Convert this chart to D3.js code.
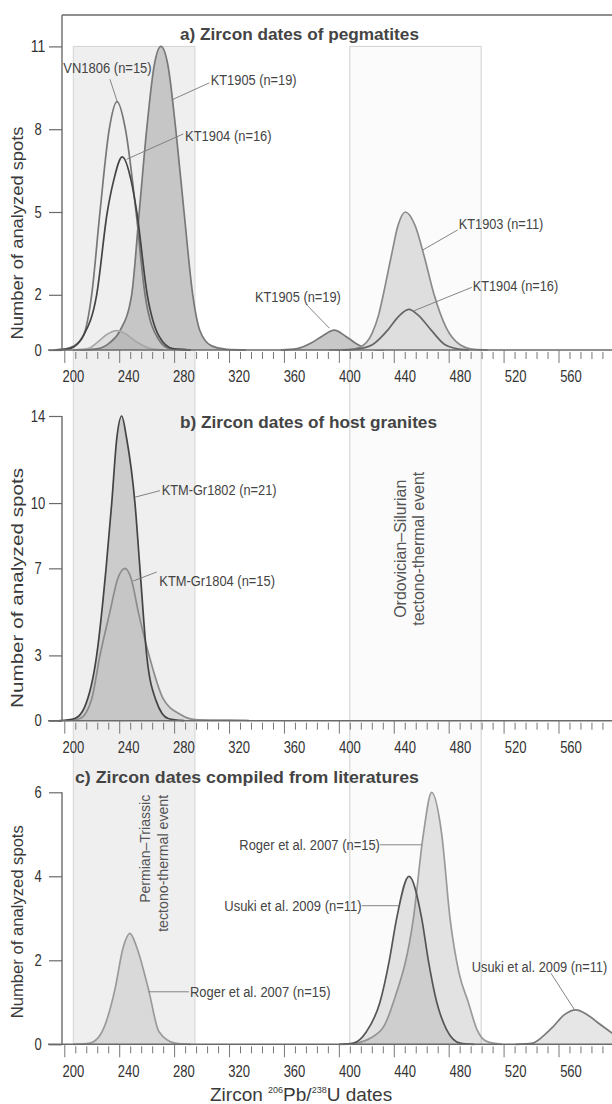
<!DOCTYPE html>
<html>
<head>
<meta charset="utf-8">
<script src="https://cdn.jsdelivr.net/npm/d3@7"></script>
<style>
  body { margin: 0; background: #fff; }
  svg { display: block; }
  text { font-family: "Liberation Sans", Arial, sans-serif; fill: #444; }
  .narrow { font-family: "Liberation Sans Narrow", "Arial Narrow", "Liberation Sans", sans-serif; }
</style>
</head>
<body>
<div id="chart"></div>
<script>
// ---- data: [age (Ma), number of spots] ----
// a) pegmatites
var kt1905a = [[205,0],[218,0.05],[226,0.25],[233.8,0.7],[242.2,2],[247.7,5],[253.1,8],[258.5,10.3],[263.4,11],[268.5,10.3],[274.1,8],[280.1,5],[286.4,2],[291.6,0.7],[300,0.15],[311,0.02],[325,0]];
var kt1905b = [[350,0],[362,0.05],[372,0.25],[380,0.5],[388.8,0.72],[397,0.5],[405,0.22],[413,0.05],[425,0]];
var kt1903a = [[200,0],[210.6,0.05],[218,0.3],[224,0.55],[231.4,0.7],[238,0.58],[245,0.32],[255.5,0.06],[265,0]];
var kt1903b = [[385,0],[399,0.01],[407.4,0.1],[416.1,0.6],[421,1.3],[424.2,2],[430,3.4],[434.8,4.5],[440.2,5],[447.3,4.5],[453.8,3.4],[461,2],[469.8,0.8],[479.5,0.2],[490,0.02],[500,0]];
var vn1806 = [[186,0],[195.2,0.05],[206.1,0.4],[213.3,2],[219.3,5],[226,8],[231.6,9],[237.7,8],[245.4,5],[251.9,2],[261.5,0.4],[270,0.05],[285,0]];
var kt1904a = [[188,0],[197.6,0.05],[207,0.5],[216.9,2],[224.6,5],[229,6.1],[235.4,7],[242,6.1],[245.9,5],[253.5,2],[262,0.5],[272,0.05],[285,0]];
var kt1904b = [[395,0],[405,0.03],[416.6,0.2],[427.6,0.73],[435,1.2],[442.6,1.47],[450,1.24],[458.7,0.73],[468.6,0.2],[476,0.06],[486,0]];
// b) host granites
var gr1802 = [[190,0],[201,0.1],[208,0.6],[216.9,3],[223.7,7],[227.8,10],[231.5,13],[235,14],[238.5,13],[244.6,10],[248.2,7],[253.1,3],[260,0.9],[268.7,0.1],[280,0]];
var gr1804 = [[195,0],[204.8,0.1],[213.3,1],[219.3,3],[226.5,5],[232,6.5],[237.4,7],[242,6.5],[247,5],[254.8,3],[265.1,1],[277.2,0.3],[288,0.05],[300,0.03],[325,0.02],[327,0]];
// c) literature
var roger1 = [[200,0],[212,0.03],[220,0.25],[230.2,1.32],[236,2.3],[241,2.64],[246,2.3],[254.3,1.32],[262,0.3],[273.6,0.03],[285,0]];
var roger2 = [[395,0],[405,0.03],[415,0.15],[425,0.45],[431.5,1],[446,3],[453.2,5],[459.2,6],[466.5,5],[472.5,3],[479,1.7],[485.7,1],[492,0.35],[499,0.07],[510,0]];
var usuki1 = [[392,0],[402.6,0.03],[412,0.3],[421.8,1],[428.6,2],[433.9,3],[442.8,4],[452,3],[456.8,2],[462.9,1],[470,0.35],[479.7,0.03],[490,0]];
var usuki2 = [[520,0],[532.3,0.03],[540,0.2],[546.8,0.41],[555,0.7],[563.6,0.82],[572,0.7],[580,0.5],[590,0.26]];

// axes
var xLabels = [200, 240, 280, 320, 360, 400, 440, 480, 520, 560];
var xMinor = d3.range(200, 600, 8);
var yTicksA = [0, 2, 5, 8, 11];
var yTicksB = [0, 3, 7, 10, 14];
var yTicksC = [0, 2, 4, 6];

// event bands (Ma)
var permTrias = [200, 288];
var ordoSil = [400, 495];

var W = 612, H = 1104, left = 62;
var digitW = 7.25; // condensed figure digits

var svg = d3.select("#chart").append("svg")
    .attr("width", W)
    .attr("height", H);

// value scale (labels sit here) and the slightly shifted tick scale of the original
var x = d3.scaleLinear().domain([200, 560]).range([73.3, 571]);
var xTick = d3.scaleLinear().domain([200, 560]).range([64.3, 558.5]);

var panels = [
    {
        y: d3.scaleLinear().domain([0, 11]).range([350, 46.4]),
        ticks: yTicksA, top: 15, frame: true,
        title: "a) Zircon dates of pegmatites", tx: 180, ty: 39.5, tw: 239,
        ylab: 233, ylw: 213,
        series: [
            {data: kt1905a, fill: "#c6c6c6", stroke: "#787878"},
            {data: kt1905b, fill: "#c8c8c8", stroke: "#787878"},
            {data: kt1903b, fill: "#dedede", stroke: "#8a8a8a"},
            {data: kt1903a, fill: "rgba(110,110,110,0.12)", stroke: "#a8a8a8"},
            {data: vn1806, fill: "none", stroke: "#777"},
            {data: kt1904a, fill: "none", stroke: "#444"},
            {data: kt1904b, fill: "none", stroke: "#666"}
        ],
        notes: [
            {t: "VN1806 (n=15)", at: [192.8, 10.04], w: 88.4, from: [226.5, 9.81], to: [231.8, 9.0]},
            {t: "KT1905 (n=19)", at: [299.4, 9.60], w: 86, from: [298.4, 9.68], to: [271.2, 9.06]},
            {t: "KT1904 (n=16)", at: [280.8, 7.57], w: 86.7, from: [279.6, 7.83], to: [238.6, 6.91]},
            {t: "KT1905 (n=19)", at: [331.4, 1.75], w: 86, from: [368.2, 1.67], to: [385.2, 0.79]},
            {t: "KT1903 (n=11)", at: [478.8, 4.38], w: 84.6, from: [478, 4.35], to: [452.7, 3.62]},
            {t: "KT1904 (n=16)", at: [488.9, 2.14], w: 85.6, from: [488.2, 2.27], to: [445.9, 1.41]}
        ]
    },
    {
        y: d3.scaleLinear().domain([0, 14]).range([720.7, 416]),
        ticks: yTicksB, top: 416, frame: false,
        title: "b) Zircon dates of host granites", tx: 180, ty: 427.5, tw: 257,
        ylab: 588, ylw: 240,
        series: [
            {data: gr1802, fill: "#cccccc", stroke: null},
            {data: gr1804, fill: "rgba(190,190,190,0.45)", stroke: "#8c8c8c"},
            {data: gr1802, fill: "none", stroke: "#444"}
        ],
        notes: [
            {t: "KTM-Gr1802 (n=21)", at: [263.9, 10.39], w: 115, from: [262.7, 10.57], to: [244.6, 10.27]},
            {t: "KTM-Gr1804 (n=15)", at: [262.2, 6.19], w: 115.7, from: [260.3, 6.83], to: [243.4, 6.42]}
        ]
    },
    {
        y: d3.scaleLinear().domain([0, 6]).range([1044.3, 792.3]),
        ticks: yTicksC, top: 792.3, frame: false,
        title: "c) Zircon dates compiled from literatures", tx: 75, ty: 783, tw: 344,
        ylab: 921.7, ylw: 193,
        series: [
            {data: roger1, fill: "rgba(128,128,128,0.2)", stroke: "#9a9a9a"},
            {data: roger2, fill: "rgba(128,128,128,0.2)", stroke: "#9a9a9a"},
            {data: usuki1, fill: "rgba(128,128,128,0.2)", stroke: "#555"},
            {data: usuki2, fill: "rgba(128,128,128,0.2)", stroke: "#7a7a7a"}
        ],
        notes: [
            {t: "Roger et al. 2007 (n=15)", at: [320.1, 4.63], w: 140.7, from: [421.8, 4.75], to: [452, 4.75]},
            {t: "Usuki et al. 2009 (n=11)", at: [309.2, 3.17], w: 137.4, from: [408.6, 3.30], to: [435.6, 3.30]},
            {t: "Roger et al. 2007 (n=15)", at: [284.4, 1.13], w: 140.7, from: [254.6, 1.25], to: [283.6, 1.25]},
            {t: "Usuki et al. 2009 (n=11)", at: [488.2, 1.73], w: 135.5, from: [545.5, 1.69], to: [562.4, 0.83]}
        ]
    }
];

var pA = panels[0], pB = panels[1], pC = panels[2];

// shaded tectono-thermal bands behind all three panels
var bandTop = pA.y(11), bandBottom = pC.y(0);
[[permTrias, "#efefef", "#d4d4d4"], [ordoSil, "#fbfbfb", "#cfcfcf"]].forEach(function (b) {
    svg.append("rect")
        .attr("x", x(b[0][0]))
        .attr("y", bandTop)
        .attr("width", x(b[0][1]) - x(b[0][0]))
        .attr("height", bandBottom - bandTop)
        .attr("fill", b[1])
        .attr("stroke", b[2])
        .attr("stroke-width", 1);
});

panels.forEach(function (p) {
    var g = svg.append("g");
    var y = p.y;

    var area = d3.area()
        .x(function (d) { return x(d[0]); })
        .y0(y(0))
        .y1(function (d) { return y(d[1]); })
        .curve(d3.curveMonotoneX);
    var line = d3.line()
        .x(function (d) { return x(d[0]); })
        .y(function (d) { return y(d[1]); })
        .curve(d3.curveMonotoneX);

    p.series.forEach(function (s) {
        if (s.fill !== "none") {
            g.append("path").attr("d", area(s.data)).attr("fill", s.fill);
        }
        if (s.stroke) {
            g.append("path")
                .attr("d", line(s.data))
                .attr("fill", "none")
                .attr("stroke", s.stroke)
                .attr("stroke-width", 1.7)
                .attr("stroke-linejoin", "round");
        }
    });

    // x axis: long base line, ticks from the tick scale, labels from the value scale
    g.append("line")
        .attr("x1", left - 14).attr("x2", W)
        .attr("y1", y(0)).attr("y2", y(0))
        .attr("stroke", "#6a6a6a").attr("stroke-width", 1.6);

    var xa = g.append("g").attr("transform", "translate(0," + y(0) + ")")
        .call(d3.axisBottom(xTick).tickValues(xMinor).tickFormat("").tickSizeOuter(0));
    xa.select(".domain").remove();
    xa.selectAll(".tick line")
        .attr("stroke", "#777")
        .attr("stroke-width", 1)
        .attr("y1", function (d) { return xLabels.indexOf(d) >= 0 ? 0 : 2; })
        .attr("y2", function (d) { return xLabels.indexOf(d) >= 0 ? 13 : 9; });

    g.selectAll("text.xl")
        .data(xLabels)
        .join("text")
        .attr("class", "xl narrow")
        .attr("x", function (d) { return x(d); })
        .attr("y", y(0) + 32.4)
        .attr("text-anchor", "middle")
        .attr("font-size", 16)
        .attr("textLength", function (d) { return String(d).length * digitW; })
        .attr("lengthAdjust", "spacingAndGlyphs")
        .style("fill", "#333")
        .text(function (d) { return d; });

    // y axis
    g.append("line")
        .attr("x1", left).attr("x2", left)
        .attr("y1", y(0)).attr("y2", p.top)
        .attr("stroke", "#6a6a6a").attr("stroke-width", 1.4);
    if (p.frame) {
        g.append("line")
            .attr("x1", left).attr("x2", W)
            .attr("y1", p.top).attr("y2", p.top)
            .attr("stroke", "#6a6a6a").attr("stroke-width", 1.4);
    }
    var ya = g.append("g").attr("transform", "translate(" + left + ",0)")
        .call(d3.axisLeft(y).tickValues(p.ticks).tickFormat(d3.format("d")).tickSize(13).tickSizeOuter(0));
    ya.select(".domain").remove();
    ya.selectAll(".tick line").attr("stroke", "#6a6a6a").attr("stroke-width", 1.2);
    ya.selectAll(".tick text")
        .attr("class", "narrow")
        .attr("x", -24)
        .attr("text-anchor", "middle")
        .attr("font-size", 16)
        .attr("textLength", function (d) { return String(d).length * digitW; })
        .attr("lengthAdjust", "spacingAndGlyphs")
        .style("fill", "#333");

    g.append("text")
        .attr("transform", "translate(23," + p.ylab + ") rotate(-90)")
        .attr("text-anchor", "middle")
        .attr("font-size", 17)
        .attr("textLength", p.ylw)
        .attr("lengthAdjust", "spacingAndGlyphs")
        .style("fill", "#3a3a3a")
        .text("Number of analyzed spots");

    // panel title
    g.append("text")
        .attr("x", p.tx).attr("y", p.ty)
        .attr("font-size", 17.3)
        .attr("font-weight", "bold")
        .attr("textLength", p.tw)
        .attr("lengthAdjust", "spacingAndGlyphs")
        .style("fill", "#444")
        .text(p.title);

    // labels with leader lines; text squeezed horizontally to the figure's condensed width
    p.notes.forEach(function (n) {
        g.append("line")
            .attr("x1", x(n.from[0])).attr("y1", y(n.from[1]))
            .attr("x2", x(n.to[0])).attr("y2", y(n.to[1]))
            .attr("stroke", "#777").attr("stroke-width", 0.9);
        var t = g.append("text")
            .attr("class", "narrow")
            .attr("font-size", 15.5)
            .style("fill", "#444")
            .text(n.t);
        var sx = n.w / t.node().getComputedTextLength();
        t.attr("transform", "translate(" + x(n.at[0]) + "," + y(n.at[1]) + ") scale(" + sx + ",1)");
    });
});

// band captions (rotated)
function bandText(px, py, anchor, size, len, str) {
    svg.append("text")
        .attr("transform", "translate(" + px + "," + py + ") rotate(-90)")
        .attr("text-anchor", anchor)
        .attr("font-size", size)
        .attr("textLength", len)
        .attr("lengthAdjust", "spacingAndGlyphs")
        .style("fill", "#555")
        .text(str);
}
bandText(x(440.6), pB.y(7.9), "middle", 16, 138, "Ordovician–Silurian");
bandText(x(453.9), pB.y(7.9), "middle", 16, 154, "tectono-thermal event");
bandText(x(255.5), pC.y(5.94), "end", 14.2, 108, "Permian–Triassic");
bandText(x(268.7), pC.y(5.94), "end", 14.2, 137, "tectono-thermal event");

// x axis title with isotope superscripts
var xt = svg.append("text")
    .attr("x", 210).attr("y", 1101)
    .attr("font-size", 19)
    .style("fill", "#3a3a3a");
xt.append("tspan").text("Zircon ");
xt.append("tspan").attr("font-size", 9).attr("dy", -8).text("206");
xt.append("tspan").attr("dy", 8).text("Pb/");
xt.append("tspan").attr("font-size", 9).attr("dy", -8).text("238");
xt.append("tspan").attr("dy", 8).text("U dates");
</script>
</body>
</html>
